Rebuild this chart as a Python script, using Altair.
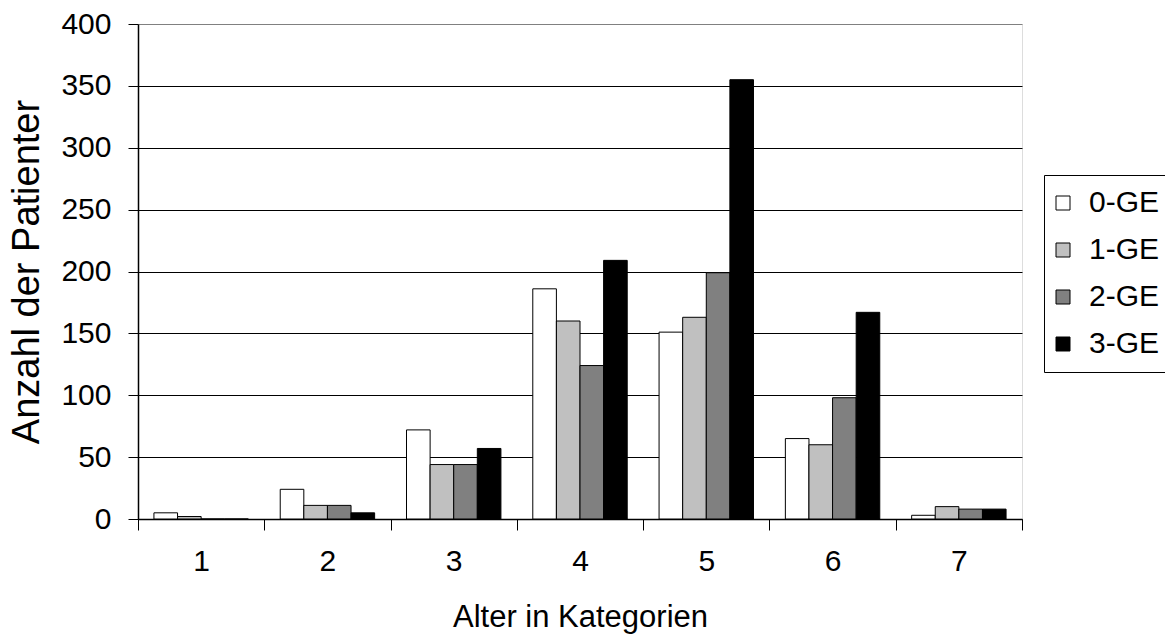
import altair as alt
import pandas as pd

categories = ["1", "2", "3", "4", "5", "6", "7"]
series = ["0-GE", "1-GE", "2-GE", "3-GE"]
v0 = [5, 24, 72, 186, 151, 65, 3]
v1 = [2, 11, 44, 160, 163, 60, 10]
v2 = [0, 11, 44, 124, 199, 98, 8]
v3 = [0, 5, 57, 209, 355, 167, 8]
y_ticks = [0, 50, 100, 150, 200, 250, 300, 350, 400]
colors = ["white", "#c0c0c0", "#808080", "black"]

rows = []
for s, vals in zip(series, [v0, v1, v2, v3]):
    for c, v in zip(categories, vals):
        rows.append({"Alter": c, "Gruppe": s, "Anzahl": v})
df = pd.DataFrame(rows)

FONT = "Liberation Sans"

chart = alt.Chart(df).mark_bar(stroke="black", strokeWidth=1).encode(
    x=alt.X(
        "Alter:N",
        sort=categories,
        scale=alt.Scale(paddingInner=0, paddingOuter=0),
        axis=alt.Axis(
            title="Alter in Kategorien",
            labelAngle=0,
            tickBand="extent",
            tickSize=11,
            tickColor="black",
            domainColor="black",
            domainWidth=1.5,
            labelFontSize=30,
            labelPadding=16,
            titleFontSize=31,
            titleFontWeight="normal",
            titlePadding=26,
            grid=False,
        ),
    ),
    xOffset=alt.XOffset(
        "Gruppe:N",
        sort=series,
        scale=alt.Scale(paddingInner=0, paddingOuter=0.675),
    ),
    y=alt.Y(
        "Anzahl:Q",
        scale=alt.Scale(domain=[0, 400], nice=False),
        axis=alt.Axis(
            title="Anzahl der Patienter",
            values=y_ticks,
            tickSize=10,
            tickColor="black",
            domainColor="black",
            domainWidth=1.5,
            labelFontSize=30,
            labelPadding=17,
            titleFontSize=38,
            titleFontWeight="normal",
            titlePadding=14,
            grid=True,
            gridColor={"condition": {"test": "datum.value === 400", "value": "#808080"}, "value": "black"},
            gridWidth=1,
        ),
    ),
    color=alt.Color(
        "Gruppe:N",
        sort=series,
        scale=alt.Scale(domain=series, range=colors),
        legend=alt.Legend(
            title=None,
            orient="none",
            legendX=906,
            legendY=151,
            symbolType="square",
            symbolSize=196,
            symbolStrokeColor="black",
            symbolStrokeWidth=1,
            symbolOpacity=1,
            symbolOffset=-9,
            labelFontSize=30,
            labelFont=FONT,
            labelColor="black",
            labelOffset=11,
            labelLimit=300,
            rowPadding=17,
            padding=13,
            strokeColor="black",
            fillColor="white",
        ),
    ),
).properties(
    width=884,
    height=495,
    autosize=alt.AutoSizeParams(type="none"),
    padding={"left": 138, "top": 24, "right": 143, "bottom": 118},
).configure_view(
    stroke="#808080", strokeWidth=1
).configure_axis(
    labelFont=FONT, titleFont=FONT, labelColor="black", titleColor="black",
    titleFontWeight="normal",
).configure(background="white")

chart.save("out.html", embed_options={"renderer": "svg", "actions": False})
